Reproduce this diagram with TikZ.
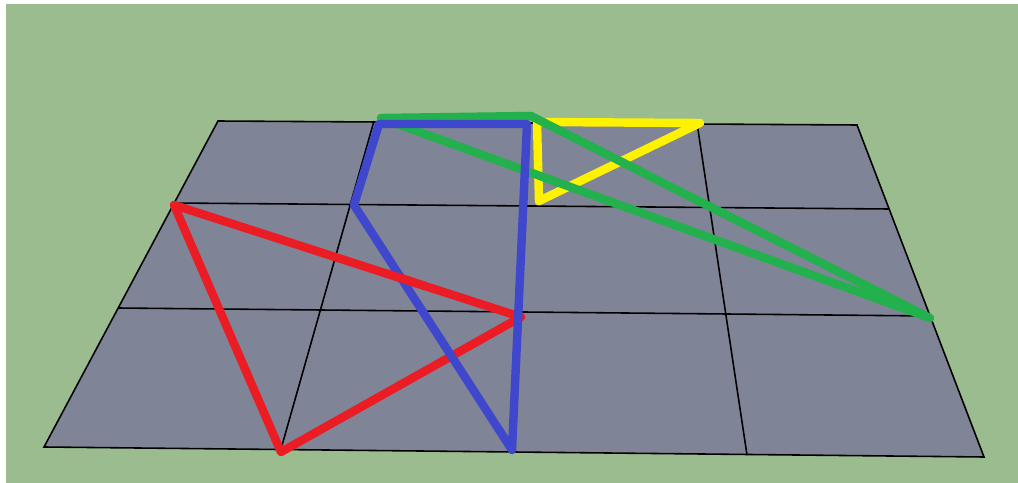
\documentclass[tikz,border=0pt]{standalone}
\usepackage{xcolor}
\usepackage{tikz}
\definecolor{lawn}{RGB}{154,188,142}
\definecolor{slab}{RGB}{128,132,151}
\definecolor{redline}{RGB}{236,28,36}
\definecolor{blueline}{RGB}{63,72,204}
\definecolor{greenline}{RGB}{34,177,76}
\definecolor{yellowline}{RGB}{255,242,0}

\begin{document}
\begin{tikzpicture}[x=0.02cm,y=-0.02cm,
    grid/.style={black,line width=0.9pt},
    thick edge/.style={line width=4.8pt,line join=round,line cap=round}]
  \useasboundingbox (0,0) rectangle (1018,483);
  \fill[white] (0,0) rectangle (1018,483);
  \fill[lawn] (6,4) rectangle (1018,483);
  % floor
  \fill[slab] (218,121) -- (857,125) -- (984,457) -- (44,447) -- cycle;
  \draw[grid] (218,121) -- (857,125) -- (984,457) -- (44,447) -- cycle;
  \draw[grid] (174,203) -- (889,209);
  \draw[grid] (118,308) -- (930,316);
  \draw[grid] (374,121) -- (281,449);
  \draw[grid] (529,122) -- (514,452);
  \draw[grid] (697,123) -- (747,455);
  % triangles
  \draw[thick edge,yellowline] (537,122) -- (700,123) -- (539,201) -- cycle;
  \draw[thick edge,greenline] (381,118) -- (531,116) -- (930,318) -- cycle;
  \draw[thick edge,redline] (174,205) -- (521,317) -- (281,452) -- cycle;
  \draw[thick edge,blueline] (379,124) -- (527,124) -- (512,450) -- (354,205) -- cycle;
  \draw[thick edge,redline] (385,273) -- (425,286);
\end{tikzpicture}
\end{document}
